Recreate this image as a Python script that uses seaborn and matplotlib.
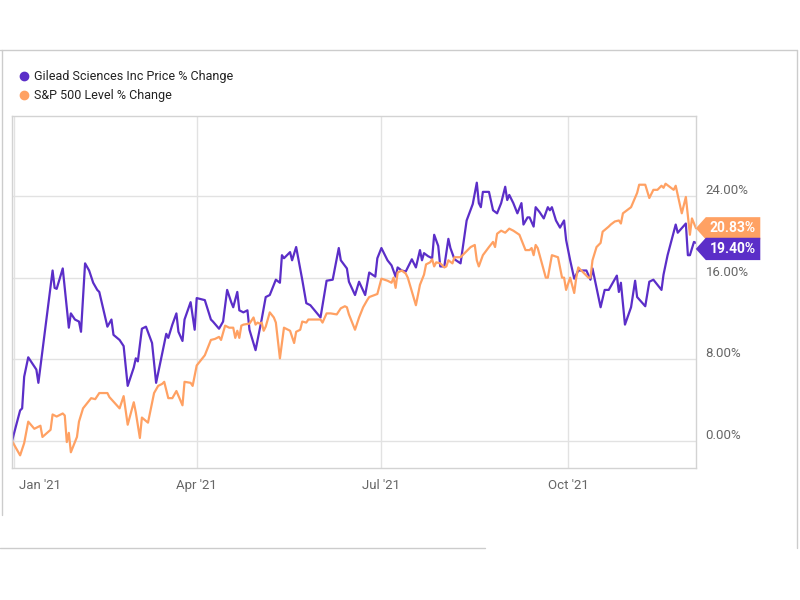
import matplotlib.pyplot as plt
from matplotlib.path import Path
from matplotlib.lines import Line2D
from matplotlib.transforms import ScaledTranslation
import pandas as pd
import seaborn as sns

# year-to-date % change, days counted from 2020-12-31
start = pd.Timestamp('2020-12-31')

gild_days = [0, 4, 5, 6, 8, 10, 12, 13, 20, 21, 22, 25, 28, 29, 31, 33, 34, 36, 38, 40,
             42, 43, 47, 49, 50, 53, 55, 57, 60, 61, 62, 64, 66, 69, 71, 74, 76, 77, 79, 81,
             82, 84, 85, 88, 90, 91, 95, 98, 99, 102, 104, 106, 108, 109, 111, 112, 114, 116, 117, 120,
             123, 125, 127, 130, 132, 133, 134, 137, 138, 140, 143, 145, 147, 152, 155, 158, 161, 162, 165, 166,
             169, 171, 174, 176, 179, 180, 182, 185, 187, 189, 190, 192, 194, 197, 199, 201, 202, 203, 205, 207,
             208, 210, 211, 213, 215, 216, 218, 221, 224, 227, 229, 230, 231, 232, 235, 237, 239, 241, 243, 244,
             245, 247, 249, 251, 252, 254, 255, 257, 258, 260, 262, 264, 265, 266, 268, 270, 272, 273, 275, 277,
             279, 283, 285, 286, 290, 292, 294, 298, 299, 300, 302, 305, 307, 308, 312, 314, 316, 320, 321, 323,
             325, 327, 328, 332, 333, 334, 336, 337]
gild_pct = [0.0, 3.0, 3.2, 6.3, 8.2, 7.6, 7.0, 5.7, 16.7, 15.0, 14.9, 16.9, 11.1, 12.5, 11.9, 11.7, 10.7, 17.4, 16.7, 15.5,
            14.8, 14.6, 11.2, 11.9, 10.4, 9.9, 9.3, 5.4, 7.2, 8.1, 7.8, 11.0, 11.2, 9.6, 5.7, 8.6, 10.5, 10.1, 11.4, 12.5,
            10.7, 9.8, 11.9, 13.6, 10.9, 14.0, 13.8, 11.9, 11.7, 11.0, 11.7, 14.8, 13.6, 13.1, 14.6, 12.8, 12.6, 12.8, 10.9, 8.9,
            11.9, 14.1, 14.3, 15.8, 15.5, 18.2, 17.9, 18.5, 17.7, 19.0, 15.8, 13.5, 13.3, 12.1, 15.7, 15.8, 18.9, 17.7, 16.9, 15.6,
            14.3, 15.6, 14.3, 16.5, 16.1, 17.9, 18.9, 17.7, 17.2, 16.1, 17.0, 16.7, 16.6, 17.8, 17.0, 18.7, 17.7, 18.4, 18.1, 17.9,
            20.2, 19.1, 17.1, 17.1, 19.8, 18.9, 17.8, 17.4, 21.6, 23.2, 25.3, 23.3, 22.9, 24.4, 24.4, 22.6, 22.3, 23.3, 24.9, 23.6,
            24.1, 23.3, 22.3, 23.3, 21.2, 21.9, 21.9, 21.0, 22.9, 22.4, 21.8, 22.9, 22.6, 22.9, 21.6, 20.9, 21.6, 19.7, 17.7, 15.9,
            16.7, 16.7, 15.8, 16.9, 13.1, 14.8, 14.8, 16.2, 14.6, 15.5, 11.4, 13.1, 15.7, 14.1, 13.2, 15.6, 15.8, 14.8, 16.3, 18.2,
            19.7, 21.2, 20.4, 21.3, 18.2, 18.2, 19.5, 19.40]

spx_days = [0, 4, 6, 8, 11, 12, 14, 15, 19, 20, 22, 25, 26, 27, 28, 29, 32, 33, 35, 37,
            39, 41, 43, 47, 48, 53, 55, 57, 60, 61, 63, 64, 67, 70, 72, 74, 75, 77, 79, 81,
            84, 85, 88, 89, 91, 95, 98, 100, 102, 103, 105, 107, 109, 110, 111, 112, 113, 114, 117, 119,
            120, 121, 122, 123, 124, 125, 127, 129, 130, 132, 134, 137, 139, 140, 142, 143, 145, 146, 148, 152,
            153, 155, 157, 160, 162, 164, 165, 166, 169, 171, 173, 175, 176, 180, 182, 185, 187, 188, 189, 190,
            192, 194, 195, 199, 201, 203, 204, 206, 207, 208, 209, 211, 213, 214, 215, 217, 218, 221, 223, 226,
            228, 229, 230, 232, 235, 237, 238, 239, 241, 243, 245, 247, 250, 253, 255, 256, 257, 258, 259, 263,
            264, 266, 269, 271, 272, 273, 275, 277, 278, 279, 281, 284, 285, 286, 288, 290, 291, 294, 295, 297,
            299, 300, 301, 303, 305, 308, 309, 312, 314, 316, 318, 320, 321, 322, 324, 326, 327, 330, 332, 334,
            335, 337]
spx_pct = [0.0, -1.4, -0.2, 1.9, 1.2, 1.3, 1.5, 0.4, 1.1, 2.6, 2.4, 2.7, 2.5, -0.1, 0.8, -1.1, 0.4, 1.9, 3.2, 3.7,
           4.2, 4.1, 4.7, 4.7, 4.3, 3.2, 4.4, 1.6, 3.8, 2.8, 0.3, 2.3, 1.8, 4.7, 5.4, 5.6, 5.8, 4.2, 4.2, 4.9,
           3.5, 5.8, 5.7, 5.4, 7.4, 8.4, 9.9, 10.0, 10.2, 9.9, 11.3, 11.1, 11.1, 10.1, 10.8, 10.1, 11.3, 11.4, 11.5, 12.1,
           11.4, 11.6, 11.5, 11.6, 10.8, 11.2, 12.6, 12.1, 11.6, 8.1, 11.1, 10.8, 9.6, 10.7, 10.9, 11.7, 11.6, 11.9, 11.9, 11.9,
           11.6, 12.5, 12.5, 12.4, 13.0, 13.2, 13.1, 12.4, 10.9, 12.1, 13.1, 13.8, 14.1, 14.4, 15.9, 15.7, 15.5, 16.0, 15.0, 16.5,
           16.7, 16.4, 16.0, 13.3, 15.3, 16.3, 17.3, 17.5, 17.8, 17.1, 17.5, 17.4, 17.0, 17.1, 17.7, 17.4, 18.0, 18.0, 18.4, 19.0,
           19.2, 17.7, 17.1, 18.2, 19.0, 19.5, 19.0, 20.3, 20.6, 20.4, 20.8, 20.6, 20.2, 18.7, 18.7, 18.9, 18.2, 19.2, 18.9, 16.0,
           16.0, 18.2, 18.0, 16.0, 16.0, 14.8, 16.0, 14.5, 16.0, 17.0, 16.6, 16.0, 16.0, 17.7, 19.0, 19.4, 20.5, 21.0, 21.2, 21.5,
           21.6, 21.3, 22.3, 22.6, 22.9, 24.3, 25.1, 25.1, 23.8, 24.6, 24.6, 25.0, 24.8, 25.2, 24.9, 24.6, 25.0, 22.3, 23.9, 20.2,
           21.8, 20.83]

gild_name = 'Gilead Sciences Inc Price % Change'
spx_name = 'S&P 500 Level % Change'
purple = '#5b2ec8'
orange = '#ffa163'

df = pd.concat([
    pd.DataFrame({'date': start + pd.to_timedelta(gild_days, unit='D'), 'pct': gild_pct, 'series': gild_name}),
    pd.DataFrame({'date': start + pd.to_timedelta(spx_days, unit='D'), 'pct': spx_pct, 'series': spx_name}),
])

sns.set_style('white')
plt.rcParams['font.family'] = ['Roboto', 'DejaVu Sans']

fig = plt.figure(figsize=(8, 6), dpi=100)
ax = fig.add_axes([12 / 800, 1 - 468 / 600, 684 / 800, 352 / 600])

sns.lineplot(data=df, x='date', y='pct', hue='series', palette=[purple, orange],
             linewidth=1.6, estimator=None, legend=False, ax=ax)

ax.set_xlim(start, start + pd.Timedelta(days=337))
ax.set_ylim(-2.64, 31.83)
ax.set_xlabel('')
ax.set_ylabel('')

ax.set_yticks([0, 8, 16, 24])
ax.set_yticklabels(['{:.2f}%'.format(v) for v in [0, 8, 16, 24]])
xt = pd.to_datetime(['2021-01-01', '2021-04-01', '2021-07-01', '2021-10-01'])
ax.set_xticks(xt)
ax.set_xticklabels(["Jan '21", "Apr '21", "Jul '21", "Oct '21"])

ax.grid(True, color='#e2e2e2', linewidth=1)
for s in ax.spines.values():
    s.set_color('#d3d3d3')
    s.set_linewidth(1)

ax.yaxis.tick_right()
ax.tick_params(length=0, labelcolor='#666666', labelsize=9.5)
ax.tick_params(axis='y', pad=7)
ax.tick_params(axis='x', pad=8)

# y labels sit a little above their gridline
for lab in ax.get_yticklabels():
    lab.set_transform(lab.get_transform() + ScaledTranslation(0, 7 / 100, fig.dpi_scale_trans))
# the first month label is pushed inside the plot
first = ax.get_xticklabels()[0]
first.set_transform(first.get_transform() + ScaledTranslation(26 / 100, 0, fig.dpi_scale_trans))


def tag_box(x0, y0, width, height, mutation_size):
    pad = 0.3 * mutation_size
    x0, y0 = x0 - pad, y0 - pad
    x1, y1 = x0 + width + 2 * pad, y0 + height + 2 * pad
    tip = (y1 - y0) * 0.45
    ym = (y0 + y1) / 2
    return Path([(x0 - tip, ym), (x0, y0), (x1, y0), (x1, y1), (x0, y1), (x0 - tip, ym)], closed=True)


for val, col, dy in [(spx_pct[-1], orange, 0), (gild_pct[-1], purple, -6)]:
    ax.annotate('{:.2f}%'.format(val), xy=(1, val), xycoords=('axes fraction', 'data'),
                xytext=(14, dy), textcoords='offset pixels', ha='left', va='center',
                color='white', fontweight='bold', fontsize=10, annotation_clip=False,
                bbox=dict(boxstyle=tag_box, fc=col, ec='none'))

handles = [Line2D([], [], marker='o', ls='', color=purple, markersize=6, label=gild_name),
           Line2D([], [], marker='o', ls='', color=orange, markersize=6, label=spx_name)]
fig.legend(handles=handles, loc='upper left', bbox_to_anchor=(11 / 800, 1 - 70 / 600),
           frameon=False, handletextpad=-0.15, labelspacing=0.5, fontsize=9,
           labelcolor='#222222', borderaxespad=0, borderpad=0)

# outer frame of the card
frame = dict(color='#cccccc', linewidth=1, transform=fig.transFigure)
fig.add_artist(Line2D([0, 797 / 800], [1 - 50 / 600, 1 - 50 / 600], **frame))
fig.add_artist(Line2D([2 / 800, 2 / 800], [1 - 50 / 600, 1 - 515 / 600], **frame))
fig.add_artist(Line2D([797 / 800, 797 / 800], [1 - 50 / 600, 1 - 548 / 600], **frame))
fig.add_artist(Line2D([0, 485 / 800], [1 - 548 / 600, 1 - 548 / 600], **frame))

fig.savefig('out.png', dpi=100)
